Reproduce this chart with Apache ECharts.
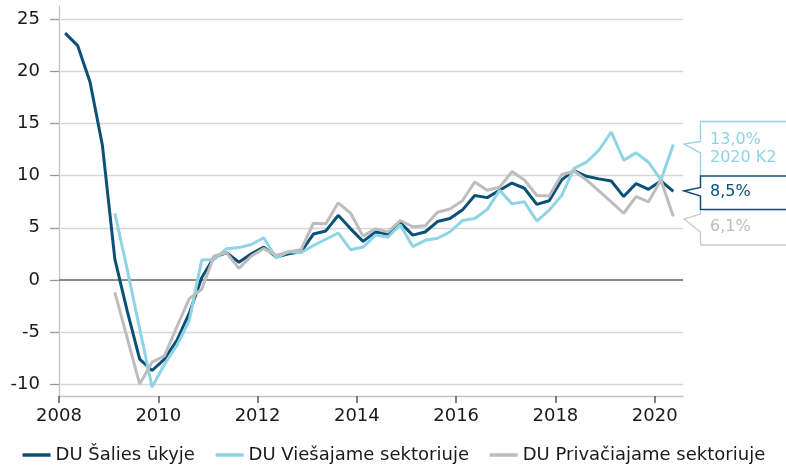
<!DOCTYPE html>
<html>
<head>
<meta charset="utf-8">
<title>DU metinis pokytis</title>
<script src="https://cdn.jsdelivr.net/npm/echarts@6/dist/echarts.min.js"></script>
<style>
  html, body { margin: 0; padding: 0; background: #fff; }
  #chart { width: 786px; height: 465px; }
</style>
</head>
<body>
<div id="chart"></div>
<script>
// ketvirtiniai duomenys nuo 2008 K1 iki 2020 K2
const firstYear = 2008
const xTicks = [2008, 2010, 2012, 2014, 2016, 2018, 2020]
const yTicks = [-10, -5, 0, 5, 10, 15, 20, 25]

const seriesNames = ['DU Šalies ūkyje', 'DU Viešajame sektoriuje', 'DU Privačiajame sektoriuje']
const colors = ['#0b5077', '#8fd4e4', '#bdbdbd']

// DU Šalies ūkyje, %
const salies = [
  23.7, 22.5, 19.0, 12.9,
  2.0, -3.0, -7.6, -8.7,
  -7.6, -5.8, -3.2, 0.2,
  2.2, 2.6, 1.7, 2.5,
  3.15, 2.2, 2.5, 2.7,
  4.4, 4.7, 6.2, 4.9,
  3.7, 4.6, 4.4, 5.5,
  4.3, 4.6, 5.6, 5.9,
  6.7, 8.1, 7.9, 8.6,
  9.3, 8.8, 7.25, 7.6,
  9.6, 10.5, 9.95, 9.7,
  9.5, 8.0, 9.25, 8.7,
  9.5, 8.5
]
// DU Viešajame sektoriuje, %
const viesasis = [
  null, null, null, null,
  6.4, 1.0, -4.7, -10.3,
  -8.1, -6.3, -3.9, 1.9,
  1.95, 3.0, 3.1, 3.4,
  4.05, 2.1, 2.7, 2.6,
  3.3, 3.9, 4.5, 2.9,
  3.15, 4.3, 4.1, 5.3,
  3.2, 3.8, 4.0, 4.6,
  5.7, 5.9, 6.75, 8.6,
  7.3, 7.5, 5.65, 6.7,
  8.1, 10.7, 11.3, 12.45,
  14.2, 11.5, 12.2, 11.3,
  9.6, 13.0
]
// DU Privačiajame sektoriuje, %
const privatus = [
  null, null, null, null,
  -1.2, -5.6, -10.0, -7.9,
  -7.3, -4.5, -1.8, -0.9,
  2.3, 2.6, 1.1, 2.3,
  3.0, 2.35, 2.7, 2.9,
  5.45, 5.4, 7.4, 6.4,
  4.2, 4.9, 4.6, 5.7,
  5.1, 5.2, 6.5, 6.8,
  7.6, 9.4, 8.6, 8.9,
  10.4, 9.6, 8.1, 8.05,
  10.1, 10.45, 9.6, 8.55,
  7.5, 6.4, 8.0, 7.5,
  9.6, 6.1
]

const chartInstance = echarts.init(document.getElementById('chart'))

// ketvirtis -> ketvirčio vidurio taškas ašyje
function toPairs(values) {
  const out = []
  values.forEach((v, i) => {
    if (v !== null) out.push([firstYear + (i + 0.5) / 4, v])
  })
  return out
}
function pct(v) {
  return v.toFixed(1).replace('.', ',') + '%'
}
const lastIdx = salies.length - 1
const lastQuarter = (firstYear + Math.floor(lastIdx / 4)) + ' K' + (lastIdx % 4 + 1)

const font = 'DejaVu Sans'

// tinklelio linijos
const gridLines = yTicks.map(v => ({
  yAxis: v,
  lineStyle: v === 0
    ? { color: '#8a8a8a', width: 2, type: 'solid' }
    : { color: '#d6d6d6', width: 1.3, type: 'solid' }
}))

const dataSeries = [salies, viesasis, privatus].map((arr, k) => ({
  name: seriesNames[k],
  type: 'line',
  data: toPairs(arr),
  symbol: 'none',
  showSymbol: false,
  z: 3,
  lineStyle: { color: colors[k], width: 3 },
  itemStyle: { color: colors[k] }
}))

const option = {
  animation: false,
  textStyle: { fontFamily: font },
  grid: { left: 59, right: 103, top: 6, bottom: 69 },
  xAxis: {
    type: 'value',
    min: 2008,
    max: 2020.57,
    axisLine: { show: true, onZero: false, lineStyle: { color: '#c4c4c4', width: 1.3 } },
    axisTick: { show: true, customValues: xTicks, length: 7, lineStyle: { color: '#555', width: 1.5 } },
    axisLabel: {
      customValues: xTicks, color: '#1a1a1a', fontSize: 18, margin: 11, fontFamily: font,
      formatter: v => String(v)
    },
    splitLine: { show: false }
  },
  yAxis: {
    type: 'value',
    min: -11.15,
    max: 26.3,
    axisLine: { show: true, onZero: false, lineStyle: { color: '#c4c4c4', width: 1.3 } },
    axisTick: { show: true, customValues: yTicks, length: 9, lineStyle: { color: '#9a9a9a', width: 1.3 } },
    axisLabel: { customValues: yTicks, color: '#1a1a1a', fontSize: 18, margin: 19, fontFamily: font },
    splitLine: { show: false }
  },
  legend: {
    data: seriesNames,
    left: 'center',
    top: 441,
    itemWidth: 28,
    itemHeight: 14,
    itemGap: 19,
    itemStyle: { opacity: 0 },
    lineStyle: { width: 3.5 },
    textStyle: { fontSize: 18, color: '#1a1a1a', fontFamily: font }
  },
  series: [
    {
      type: 'line',
      data: [],
      z: 1,
      silent: true,
      markLine: {
        silent: true,
        z: 1,
        symbol: 'none',
        label: { show: false },
        data: gridLines
      }
    },
    ...dataSeries
  ],
  graphic: [
    {
      type: 'polyline',
      shape: { points: [[786, 121.5], [700.5, 121.5], [700.5, 141.5], [684, 144], [700.5, 153], [700.5, 176]] },
      style: { stroke: colors[1], lineWidth: 1.3, fill: null }
    },
    {
      type: 'polyline',
      shape: { points: [[786, 176], [700.5, 176], [700.5, 187.5], [684, 191], [700.5, 196], [700.5, 209.5], [786, 209.5]] },
      style: { stroke: colors[0], lineWidth: 1.5, fill: null }
    },
    {
      type: 'polyline',
      shape: { points: [[700.5, 210.5], [700.5, 214], [684, 219], [700.5, 232], [700.5, 245], [786, 245]] },
      style: { stroke: '#c8c8c8', lineWidth: 1.3, fill: null }
    },
    {
      type: 'text', left: 710, top: 131,
      style: { text: pct(viesasis[lastIdx]) + '\n' + lastQuarter, fill: colors[1], font: '16px "DejaVu Sans"', lineHeight: 18 }
    },
    {
      type: 'text', left: 710, top: 184,
      style: { text: pct(salies[lastIdx]), fill: colors[0], font: '16px "DejaVu Sans"' }
    },
    {
      type: 'text', left: 710, top: 219,
      style: { text: pct(privatus[lastIdx]), fill: '#bdbdbd', font: '16px "DejaVu Sans"' }
    }
  ]
}
chartInstance.setOption(option)
</script>
</body>
</html>
